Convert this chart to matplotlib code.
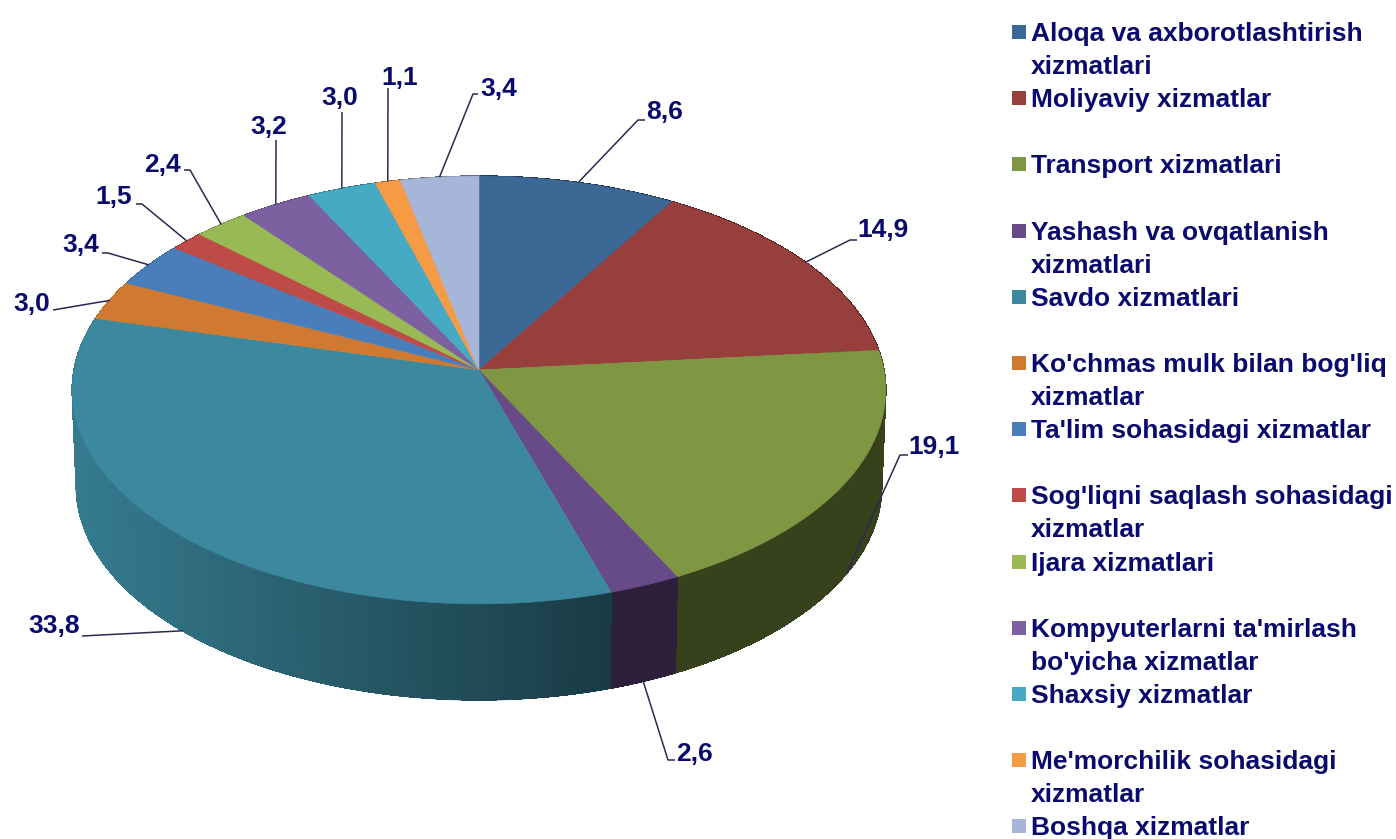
import matplotlib
matplotlib.use("Agg")
import matplotlib.pyplot as plt
from matplotlib.collections import LineCollection, PolyCollection
from matplotlib.colors import to_rgb
import numpy as np

plt.rcParams["font.family"] = ["Liberation Sans", "DejaVu Sans"]

categories = [
    "Aloqa va axborotlashtirish\nxizmatlari",
    "Moliyaviy xizmatlar",
    "Transport xizmatlari",
    "Yashash va ovqatlanish\nxizmatlari",
    "Savdo xizmatlari",
    "Ko'chmas mulk bilan bog'liq\nxizmatlar",
    "Ta'lim sohasidagi xizmatlar",
    "Sog'liqni saqlash sohasidagi\nxizmatlar",
    "Ijara xizmatlari",
    "Kompyuterlarni ta'mirlash\nbo'yicha xizmatlar",
    "Shaxsiy xizmatlar",
    "Me'morchilik sohasidagi\nxizmatlar",
    "Boshqa xizmatlar",
]
values = [8.6, 14.9, 19.1, 2.6, 33.8, 3.0, 3.4, 1.5, 2.4, 3.2, 3.0, 1.1, 3.4]
colors = [
    "#3c6896", "#963f3d", "#7f9642", "#674a88", "#3b889f", "#cf7a30", "#4a7ebb",
    "#be4b48", "#98b954", "#7d60a0", "#46aac5", "#f59b46", "#a5b6d8",
]
# elbow and end of each leader line, and the label position, in pixels
elbows = [
    (638, 120), (850, 240), (900, 455), (668, 760), (82, 636), (53, 310), (108, 253),
    (142, 204), (190, 170), (276, 140), (342, 112), (388, 88), (473, 94),
]
tails = [645, 857, 908, 675, 82, 53, 102, 136, 184, 276, 342, 388, 478]
label_pos = [
    (646, 112), (857, 230), (908, 447), (676, 754), (80, 626), (50, 304), (99, 245),
    (132, 197), (181, 165), (287, 127), (358, 98), (418, 78), (517, 89),
]
label_ha = [
    "left", "left", "left", "left", "right", "right", "right",
    "right", "right", "right", "right", "right", "right",
]

INK = "#0a0a6e"
LEADER = "#2a2a50"
FONT = 19

# pie projection: apex, radii, perspective, thickness
CX, CY = 479, 370
RX, RY = 405, 212
PERSP = 0.0935
DEPTH = 96


def project(theta, bottom=False):
    u, v = np.sin(theta), np.cos(theta)
    w = 1 + PERSP * v
    scale = 0.99 if bottom else 1.0
    x = CX + scale * RX * u / w
    y = CY - RY * v / w + (DEPTH if bottom else 0)
    return x, y


def side_shade(x):
    return np.clip(0.9 - 0.47 * (x - 78) / (610 - 78), 0.43, 0.9)


fig = plt.figure(figsize=(13.96, 8.39), dpi=100)
ax = fig.add_axes([0, 0, 1, 1])
ax.set_xlim(0, 1396)
ax.set_ylim(839, 0)
ax.axis("off")

cum = np.concatenate([[0], np.cumsum(values)]) / np.sum(values) * 2 * np.pi

# side wall first, back to front
quads, quad_colors, quad_order, rims = [], [], [], []
for i, color in enumerate(colors):
    th = np.linspace(cum[i], cum[i + 1], max(int(values[i] * 4), 3))
    for a, b in zip(th[:-1], th[1:]):
        xa, ya = project(a)
        xb, yb = project(b)
        xc, yc = project(b, bottom=True)
        xd, yd = project(a, bottom=True)
        quads.append([(xa, ya), (xb, yb), (xc, yc), (xd, yd)])
        rims.append([(xd, yd), (xc, yc)])
        quad_colors.append(tuple(np.array(to_rgb(color)) * side_shade((xa + xb) / 2)))
        quad_order.append(-np.cos((a + b) / 2))
order = np.argsort(quad_order)
shades = [quad_colors[k] for k in order]
ax.add_collection(
    PolyCollection(
        [quads[k] for k in order],
        facecolors=shades,
        edgecolors=shades,
        linewidths=0.5,
        antialiaseds=False,
        zorder=1,
    )
)
# smooth lower rim, the wall itself is not antialiased
ax.add_collection(
    LineCollection([rims[k] for k in order], colors=shades, linewidths=1.0, zorder=1)
)

# top face
for i, color in enumerate(colors):
    th = np.linspace(cum[i], cum[i + 1], max(int(values[i] * 6), 4))
    xs, ys = project(th)
    ax.fill(
        np.r_[CX, xs], np.r_[CY, ys], facecolor=color, edgecolor=color,
        linewidth=0.4, zorder=2,
    )

# leader lines and value labels
for i, v in enumerate(values):
    mid = (cum[i] + cum[i + 1]) / 2
    on_side = i in (2, 3, 4)
    px, py = project(mid, bottom=on_side)
    ex, ey = elbows[i]
    ax.plot(
        [px, ex, tails[i]], [py, ey, ey], color=LEADER, linewidth=1.1, zorder=3,
        solid_capstyle="butt",
    )
    lx, ly = label_pos[i]
    ax.text(
        lx, ly, f"{v:.1f}".replace(".", ","), ha=label_ha[i], va="center",
        fontsize=FONT, fontweight="bold", color=INK, zorder=4,
    )

# legend
LEG_Y0, LEG_STEP = 32, 66.2
for i, (name, color) in enumerate(zip(categories, colors)):
    y = LEG_Y0 + i * LEG_STEP
    ax.scatter([1018.5], [y], marker="s", s=92, color=color, linewidths=0, zorder=3)
    for k, line in enumerate(name.split("\n")):
        ax.text(
            1031, y + 2 + k * 33, line, ha="left", va="center",
            fontsize=FONT, fontweight="bold", color=INK, zorder=4,
        )

fig.savefig("out.png", dpi=100, facecolor="white")
